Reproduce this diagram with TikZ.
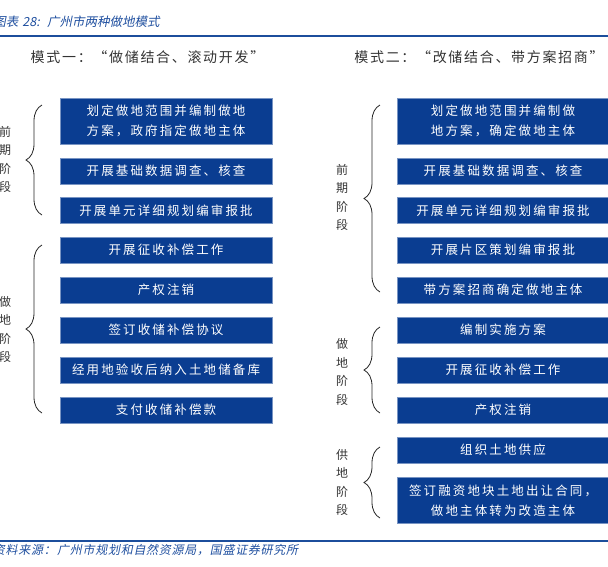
\documentclass[tikz,border=0pt]{standalone}
\usepackage{fontspec}
\usetikzlibrary{decorations.pathreplacing}
\newfontfamily\cjk{Noto Sans CJK SC}
\newfontfamily\cjkbox[LetterSpace=17]{Noto Sans CJK SC}
\newfontfamily\cjksub[LetterSpace=12]{Noto Sans CJK SC}
\newfontfamily\cjkit[FakeSlant=0.2]{Noto Sans CJK SC}
\newfontfamily\cjkitsp[FakeSlant=0.2,LetterSpace=6]{Noto Sans CJK SC}
\definecolor{boxblue}{HTML}{0A3D91}
\definecolor{lineblue}{HTML}{1C4E9C}
\definecolor{titleblue}{HTML}{1F4F9F}
\definecolor{txtgray}{HTML}{333333}
\begin{document}
\begin{tikzpicture}[x=1pt,y=-1pt,
 stepbox/.style={fill=boxblue, draw=boxblue!55, line width=0.6pt, text=white, minimum width=212pt, inner sep=0pt, align=center, font=\cjkbox\fontsize{12.5}{20}\selectfont},
 onebox/.style={stepbox, minimum height=26pt},
 twobox/.style={stepbox, minimum height=46pt},
 stage/.style={align=center, text=txtgray, inner sep=0pt, font=\cjk\fontsize{12}{18.5}\selectfont},
 subtitle/.style={text=txtgray, inner sep=0pt, font=\cjksub\fontsize{14}{16}\selectfont},
 caption/.style={text=titleblue, inner sep=0pt, font=\cjkit\fontsize{12.5}{14}\selectfont},
 source/.style={text=titleblue, inner sep=0pt, font=\cjkitsp\fontsize{12}{14}\selectfont},
 curly/.style={decorate, decoration={brace, amplitude=16pt}, line width=0.8pt, draw=black!85},
 rule/.style={draw=lineblue, line width=1.6pt}]
\useasboundingbox (0,0) rectangle (608,566);

% header and footer
\node[caption, anchor=east] (capnum) at (40,22) {图表\hspace{4pt}28:};
\node[caption, anchor=west] (captxt) at (47,22) {广州市两种做地模式};
\coordinate (rtl) at (0,36);
\coordinate (rtr) at (608,36);
\draw[rule] (rtl) -- (rtr);
\coordinate (rbl) at (0,541);
\coordinate (rbr) at (608,541);
\draw[rule] (rbl) -- (rbr);
\node[source, anchor=east] (srclbl) at (56,550) {资料来源：};
\node[source, anchor=west] (srctxt) at (57,550) {广州市规划和自然资源局，国盛证券研究所};

% subtitles
\node[subtitle] (subL) at (147.5,57) {模式一：“做储结合、滚动开发”};
\node[subtitle] (subR) at (479,57) {模式二：“改储结合、带方案招商”};

% left column
\node[twobox] (L1) at (166,121) {划定做地范围并编制做地\\方案，政府指定做地主体};
\node[onebox] (L2) at (166,171) {开展基础数据调查、核查};
\node[onebox] (L3) at (166,210.5) {开展单元详细规划编审报批};
\node[onebox] (L4) at (166,250) {开展征收补偿工作};
\node[onebox] (L5) at (166,290) {产权注销};
\node[onebox] (L6) at (166,330) {签订收储补偿协议};
\node[onebox] (L7) at (166,370) {经用地验收后纳入土地储备库};
\node[onebox] (L8) at (166,410) {支付收储补偿款};

\draw[curly] (42,215) -- (42,105);
\draw[curly] (42,413) -- (42,245);
\node[stage] (LS1) at (5,159.5) {前\\期\\阶\\段};
\node[stage] (LS2) at (5,329.5) {做\\地\\阶\\段};

% right column
\node[twobox] (R1) at (503,121) {划定做地范围并编制做\\地方案，确定做地主体};
\node[onebox] (R2) at (503,171) {开展基础数据调查、核查};
\node[onebox] (R3) at (503,210.5) {开展单元详细规划编审报批};
\node[onebox] (R4) at (503,250) {开展片区策划编审报批};
\node[onebox] (R5) at (503,290) {带方案招商确定做地主体};
\node[onebox] (R6) at (503,330) {编制实施方案};
\node[onebox] (R7) at (503,370) {开展征收补偿工作};
\node[onebox] (R8) at (503,410) {产权注销};
\node[onebox] (R9) at (503,450) {组织土地供应};
\node[twobox] (R10) at (503,500.5) {签订融资地块土地出让合同，\\做地主体转为改造主体};

\draw[curly] (380,292) -- (380,105);
\draw[curly] (380,413) -- (380,327);
\draw[curly] (380,518) -- (380,447);
\node[stage] (RS1) at (342,197.5) {前\\期\\阶\\段};
\node[stage] (RS2) at (342,372) {做\\地\\阶\\段};
\node[stage] (RS3) at (342,482.5) {供\\地\\阶\\段};
\end{tikzpicture}
\end{document}
